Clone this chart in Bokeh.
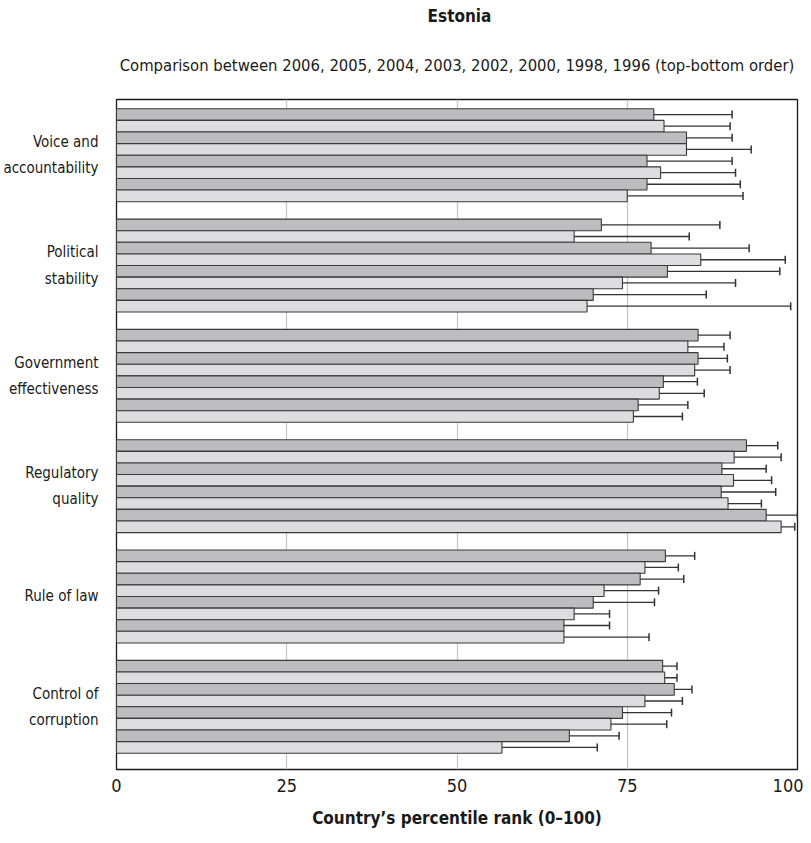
from bokeh.plotting import figure
from bokeh.models import ColumnDataSource, Range1d, FixedTicker, Whisker, TeeHead, Title
from bokeh.embed import file_html
from bokeh.resources import INLINE

FONT = "DejaVu Sans Condensed, Roboto, sans-serif"

indicators = ["Voice and\naccountability", "Political\nstability", "Government\neffectiveness",
              "Regulatory\nquality", "Rule of law", "Control of\ncorruption"]
years = ["2006", "2005", "2004", "2003", "2002", "2000", "1998", "1996"]

voice_val = [78.9, 80.4, 83.7, 83.7, 77.9, 79.9, 77.9, 75.0]
voice_lo = [71.1, 71.1, 74.7, 70.9, 68.8, 66.0, 66.5, 61.2]
voice_hi = [90.4, 90.1, 90.4, 93.2, 90.4, 90.9, 91.6, 92.0]

polit_val = [71.2, 67.2, 78.5, 85.8, 80.9, 74.3, 70.0, 69.1]
polit_lo = [59.3, 58.1, 63.9, 66.8, 63.8, 58.1, 54.3, 46.2]
polit_hi = [88.6, 84.1, 92.9, 98.2, 97.4, 90.9, 86.6, 99.0]

gov_val = [85.4, 83.9, 85.4, 84.9, 80.3, 79.7, 76.6, 75.9]
gov_lo = [77.8, 75.8, 77.9, 79.3, 73.5, 72.9, 67.4, 62.1]
gov_hi = [90.1, 89.2, 89.7, 90.1, 85.3, 86.3, 83.9, 83.1]

reg_val = [92.5, 90.7, 88.9, 90.6, 88.8, 89.8, 95.4, 97.6]
reg_lo = [86.0, 84.8, 82.0, 83.3, 83.4, 81.7, 79.6, 79.0]
reg_hi = [97.1, 97.6, 95.4, 96.2, 96.8, 94.7, 100.0, 99.6]

law_val = [80.6, 77.6, 76.9, 71.6, 70.0, 67.2, 65.7, 65.7]
law_lo = [70.1, 66.2, 68.3, 63.4, 64.7, 61.6, 60.1, 58.7]
law_hi = [84.9, 82.5, 83.3, 79.6, 79.0, 72.4, 72.4, 78.2]

corr_val = [80.2, 80.5, 81.9, 77.6, 74.3, 72.6, 66.5, 56.6]
corr_lo = [72.3, 72.9, 75.9, 72.0, 70.6, 66.0, 63.0, 36.0]
corr_hi = [82.3, 82.3, 84.5, 83.1, 81.5, 80.8, 73.8, 70.6]

all_val = [voice_val, polit_val, gov_val, reg_val, law_val, corr_val]
all_lo = [voice_lo, polit_lo, gov_lo, reg_lo, law_lo, corr_lo]
all_hi = [voice_hi, polit_hi, gov_hi, reg_hi, law_hi, corr_hi]

GAP = 1.5
PITCH = len(years) + GAP
DARK = "#bdbdbf"
LIGHT = "#dddddf"

ys, vals, los, his, cols = [], [], [], [], []
for g in range(len(indicators)):
    for i in range(len(years)):
        ys.append(g * PITCH + i + 0.5)
        vals.append(all_val[g][i])
        los.append(all_lo[g][i])
        his.append(all_hi[g][i])
        cols.append(DARK if i % 2 == 0 else LIGHT)

src = ColumnDataSource(dict(y=ys, v=vals, lo=los, hi=his, c=cols))

n_units = len(indicators) * len(years) + (len(indicators) - 1) * GAP
p = figure(width=803, height=830, output_backend="svg", toolbar_location=None,
           x_range=Range1d(0, 100), y_range=Range1d(n_units + 1.4, -0.8),
           min_border_left=109, min_border_right=6, min_border_top=94, min_border_bottom=10)

p.hbar(y="y", left=0, right="v", height=1.0, source=src, fill_color="c",
       line_color="#3a3a3a", line_width=1.1)

w = Whisker(base="y", lower="lo", upper="hi", dimension="width", source=src,
            line_color="#333333", line_width=1.3,
            upper_head=TeeHead(size=8, line_color="#333333", line_width=1.5),
            lower_head=TeeHead(size=8, line_color="#333333", line_width=1.5))
p.add_layout(w)

centers = [g * PITCH + len(years) / 2 for g in range(len(indicators))]
p.yaxis.ticker = FixedTicker(ticks=centers)
p.yaxis.major_label_overrides = {c: lab for c, lab in zip(centers, indicators)}
p.yaxis.major_label_text_font = FONT
p.yaxis.major_label_text_font_size = "15px"
p.yaxis.major_label_text_line_height = 1.45
p.yaxis.major_label_text_color = "#1a1a1a"
p.yaxis.major_tick_line_color = None
p.yaxis.minor_tick_line_color = None
p.yaxis.axis_line_color = None
p.yaxis.major_label_standoff = 12

p.xaxis.ticker = FixedTicker(ticks=[0, 25, 50, 75, 100])
p.xaxis.major_label_text_font = FONT
p.xaxis.major_label_text_font_size = "18px"
p.xaxis.major_label_text_color = "#1a1a1a"
p.xaxis.major_tick_line_color = None
p.xaxis.minor_tick_line_color = None
p.xaxis.axis_line_color = None
p.xaxis.major_label_standoff = 3
p.xaxis.axis_label = "Country\u2019s percentile rank (0\u2013100)"
p.xaxis.axis_label_text_font = FONT
p.xaxis.axis_label_text_font_style = "bold"
p.xaxis.axis_label_text_font_size = "17px"
p.xaxis.axis_label_text_color = "#1a1a1a"
p.xaxis.axis_label_standoff = 13

p.ygrid.grid_line_color = None
p.xgrid.grid_line_color = "#c4c4c4"
p.xgrid.grid_line_width = 1.2
p.outline_line_color = "#1a1a1a"
p.outline_line_width = 1.3

p.title = None
p.add_layout(Title(text="Comparison between 2006, 2005, 2004, 2003, 2002, 2000, 1998, 1996 (top-bottom order)",
                   align="center", text_font=FONT, text_font_size="16.5px", text_font_style="normal",
                   text_color="#1a1a1a", standoff=50), "above")
p.add_layout(Title(text="Estonia", align="center", text_font=FONT, text_font_size="17px",
                   text_font_style="bold", text_color="#1a1a1a", standoff=6,
                   padding=(5, 0, 0, 0)), "above")

open("out.html", "w").write(file_html(p, INLINE))
